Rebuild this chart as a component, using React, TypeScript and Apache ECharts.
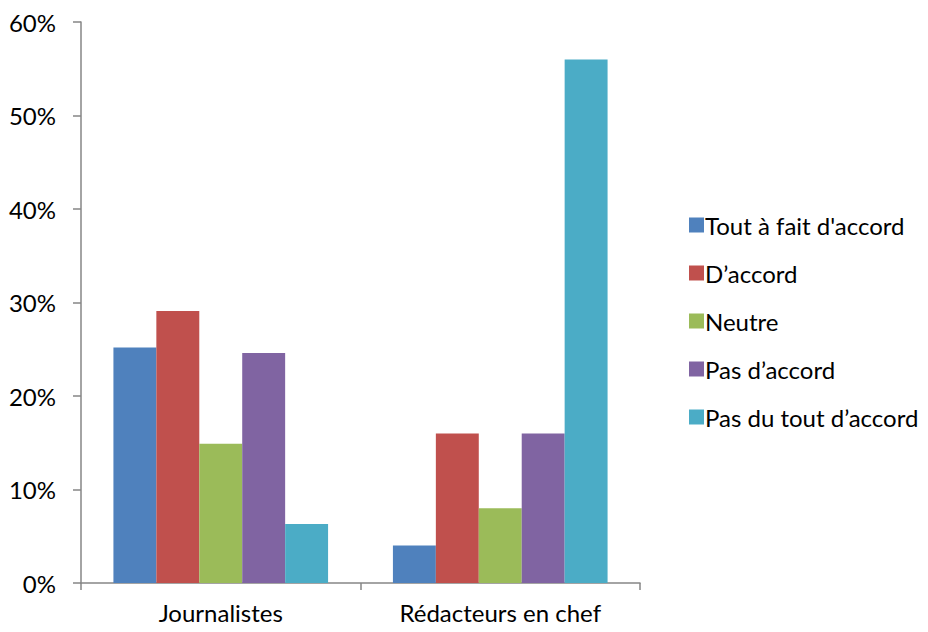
import React, { useEffect, useRef } from "react";
import * as echarts from "echarts";

const categories = ["Journalistes", "Rédacteurs en chef"];
const seriesNames = [
  "Tout à fait d'accord",
  "D’accord",
  "Neutre",
  "Pas d’accord",
  "Pas du tout d’accord",
];
const toutAFait = [25.2, 4];
const dAccord = [29.1, 16];
const neutre = [14.9, 8];
const pasDAccord = [24.6, 16];
const pasDuTout = [6.3, 56];
const yTicks = [0, 10, 20, 30, 40, 50, 60];

const colors = ["#4F81BD", "#C0504D", "#9BBB59", "#8064A2", "#4BACC6"];
const values = [toutAFait, dAccord, neutre, pasDAccord, pasDuTout];

export default function App() {
  const ref = useRef<HTMLDivElement>(null);
  useEffect(() => {
    if (!ref.current) return;
    const chart = echarts.init(ref.current, null, { renderer: "svg" });
    const font = "Lato, 'Open Sans', sans-serif";
    chart.setOption({
      animation: false,
      textStyle: { fontFamily: font },
      grid: { left: 81, right: 288, top: 22, bottom: 49, containLabel: false },
      legend: {
        orient: "vertical",
        left: 684,
        top: 208,
        itemWidth: 15,
        itemHeight: 15,
        itemGap: 24,
        icon: "rect",
        textStyle: { fontSize: 24, lineHeight: 24, color: "#000", fontFamily: font, padding: [0, 0, 0, -4] },
        data: seriesNames,
      },
      xAxis: {
        type: "category",
        data: categories,
        boundaryGap: true,
        axisLine: { lineStyle: { color: "#868686", width: 1.5 } },
        axisTick: { show: true, length: 7, alignWithLabel: false, lineStyle: { color: "#868686", width: 1.5 } },
        axisLabel: { fontSize: 24, color: "#000", margin: 17, fontFamily: font },
      },
      yAxis: {
        type: "value",
        min: yTicks[0],
        max: yTicks[yTicks.length - 1],
        interval: 10,
        splitLine: { show: false },
        axisLine: { show: true, lineStyle: { color: "#868686", width: 1.5 } },
        axisTick: { show: true, length: 8, lineStyle: { color: "#868686", width: 1.5 } },
        axisLabel: { fontSize: 24, color: "#000", margin: 25, formatter: "{value}%", fontFamily: font },
      },
      series: seriesNames.map((name, i) => ({
        name,
        type: "bar",
        data: values[i],
        barGap: "0%",
        barCategoryGap: "23.2%",
        itemStyle: { color: colors[i] },
      })),
    });
    return () => chart.dispose();
  }, []);
  return <div ref={ref} style={{ width: 928, height: 632, margin: -8 }} />;
}
